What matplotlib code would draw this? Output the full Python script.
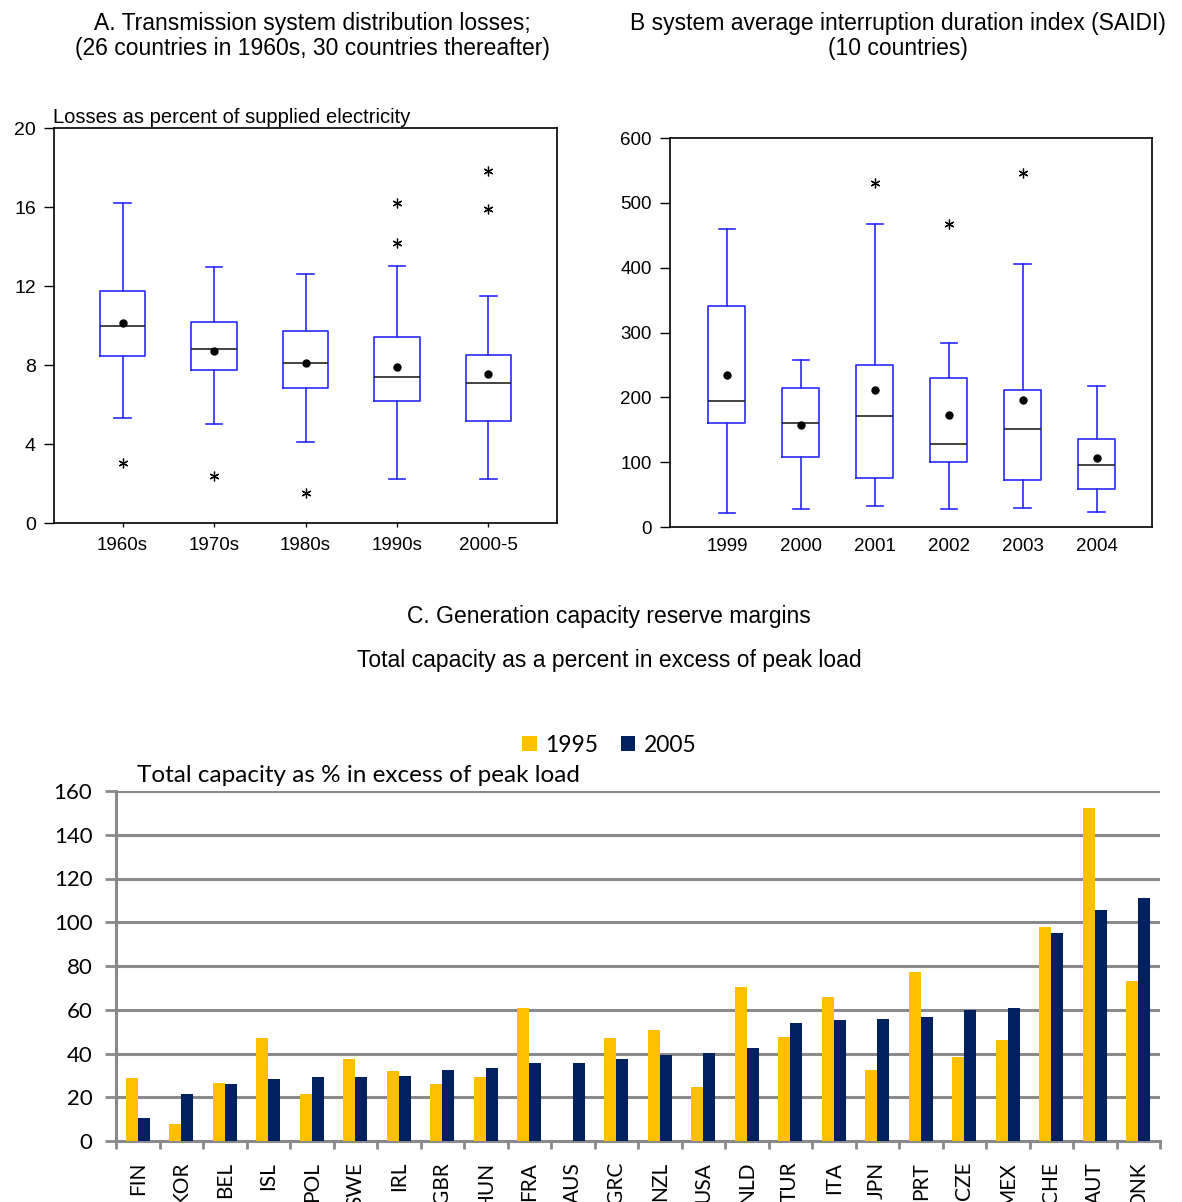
import matplotlib
matplotlib.use("Agg")
import matplotlib.pyplot as plt
from matplotlib.patches import Patch
import numpy as np

# ---------------- data ----------------
# A. Transmission and distribution losses (% of supplied electricity)
loss_decades = ["1960s", "1970s", "1980s", "1990s", "2000-5"]
loss_whislo = [5.3, 5.0, 4.1, 2.25, 2.25]
loss_q1 = [8.45, 7.75, 6.85, 6.2, 5.15]
loss_med = [10.0, 8.8, 8.1, 7.4, 7.1]
loss_mean = [10.15, 8.7, 8.1, 7.9, 7.55]
loss_q3 = [11.75, 10.2, 9.7, 9.4, 8.5]
loss_whishi = [16.2, 12.95, 12.6, 13.0, 11.5]
loss_outliers = [[3.05], [2.4], [1.5], [14.2, 16.2], [15.9, 17.8]]

# B. SAIDI (minutes)
saidi_years = ["1999", "2000", "2001", "2002", "2003", "2004"]
saidi_whislo = [22, 27, 33, 27, 29, 23]
saidi_q1 = [160, 108, 75, 100, 72, 59]
saidi_med = [194, 160, 171, 128, 151, 96]
saidi_mean = [235, 157, 212, 172, 196, 107]
saidi_q3 = [341, 214, 250, 230, 212, 136]
saidi_whishi = [459, 258, 467, 284, 406, 217]
saidi_outliers = [[], [], [531], [467], [546], []]

# C. Reserve margins (% of capacity in excess of peak load)
countries = ["FIN", "KOR", "BEL", "ISL", "POL", "SWE", "IRL", "GBR", "HUN",
             "FRA", "AUS", "GRC", "NZL", "USA", "NLD", "TUR", "ITA", "JPN",
             "PRT", "CZE", "MEX", "CHE", "AUT", "DNK"]
margin_1995 = [28.6, 7.6, 26.6, 47.3, 21.5, 37.7, 31.8, 26.0, 29.1, 60.9,
               np.nan, 47.1, 50.8, 24.6, 70.2, 47.6, 65.9, 32.5, 77.2, 38.6,
               46.2, 97.9, 152.1, 73.2]
margin_2005 = [10.7, 21.5, 25.9, 28.2, 29.1, 29.2, 29.7, 32.6, 33.2, 35.8,
               35.8, 37.7, 39.5, 40.3, 42.7, 54.0, 55.1, 55.8, 56.8, 59.8,
               60.9, 95.2, 105.7, 111.1]
series_labels = ["1995", "2005"]

# ---------------- styling ----------------
W, H = 1182, 1202
ARIAL = "Liberation Sans"
CAL = "Lato"
BLUE = "#2a2aff"
YELLOW = "#FFC000"
NAVY = "#002060"
GRID = "#8a8a8a"

fig = plt.figure(figsize=(W / 100, H / 100), dpi=100)


def px_axes(left, top, right, bottom):
    return fig.add_axes([left / W, 1 - bottom / H, (right - left) / W, (bottom - top) / H])


def box_stats(lo, q1, med, mean, q3, hi, fl):
    return [dict(whislo=a, q1=b, med=c, mean=d, q3=e, whishi=f, fliers=g)
            for a, b, c, d, e, f, g in zip(lo, q1, med, mean, q3, hi, fl)]


def draw_boxes(ax, stats, capw):
    ax.bxp(stats, positions=np.arange(1, len(stats) + 1), widths=0.5,
           showmeans=True, capwidths=capw,
           boxprops=dict(color=BLUE, lw=1.2),
           whiskerprops=dict(color=BLUE, lw=1.2),
           capprops=dict(color=BLUE, lw=1.2),
           medianprops=dict(color="#222222", lw=1.2),
           meanprops=dict(marker="o", markerfacecolor="black",
                          markeredgecolor="black", markersize=5),
           flierprops=dict(marker=(6, 2, 0), markeredgecolor="black",
                           markerfacecolor="black", markersize=7, lw=0,
                           markeredgewidth=0.9))
    for s in ax.spines.values():
        s.set_color("black")
        s.set_linewidth(1.2)


# ---------------- panel A ----------------
axA = px_axes(54, 128, 557, 523)
draw_boxes(axA, box_stats(loss_whislo, loss_q1, loss_med, loss_mean, loss_q3,
                          loss_whishi, loss_outliers), 0.18)
axA.set_xlim(0.25, 5.75)
axA.set_ylim(0, 20)
axA.set_yticks([0, 4, 8, 12, 16, 20])
axA.set_xticks(np.arange(1, 6))
axA.set_xticklabels(loss_decades)
axA.tick_params(axis="y", length=7, width=1, pad=6, labelsize=14)
axA.tick_params(axis="x", length=3, width=1, pad=7, labelsize=13.5)
for t in axA.get_xticklabels() + axA.get_yticklabels():
    t.set_fontfamily(ARIAL)
axA.text(-0.002, 1.002, "Losses as percent of supplied electricity",
         transform=axA.transAxes, ha="left", va="bottom", fontsize=14.5,
         family=ARIAL)
fig.text(312 / W, 1 - 36 / H,
         "A. Transmission system distribution losses;\n"
         "(26 countries in 1960s, 30 countries thereafter)",
         ha="center", va="center", fontsize=16.5, family=ARIAL, linespacing=1.15)

# ---------------- panel B ----------------
axB = px_axes(670, 138, 1152, 527)
draw_boxes(axB, box_stats(saidi_whislo, saidi_q1, saidi_med, saidi_mean, saidi_q3,
                          saidi_whishi, saidi_outliers), 0.22)
axB.set_xlim(0.23, 6.75)
axB.set_ylim(0, 600)
axB.set_yticks(np.arange(0, 601, 100))
axB.set_xticks(np.arange(1, 7))
axB.set_xticklabels(saidi_years)
axB.tick_params(axis="y", length=7, width=1, pad=6, labelsize=13.5)
axB.tick_params(axis="x", length=0, pad=8, labelsize=13.5)
for t in axB.get_xticklabels() + axB.get_yticklabels():
    t.set_fontfamily(ARIAL)
fig.text(898 / W, 1 - 36 / H,
         "B system average interruption duration index (SAIDI)\n(10 countries)",
         ha="center", va="center", fontsize=16.5, family=ARIAL, linespacing=1.15)

# ---------------- panel C ----------------
fig.text(609 / W, 1 - 617 / H, "C. Generation capacity reserve margins",
         ha="center", va="center", fontsize=16.5, family=ARIAL)
fig.text(609 / W, 1 - 661 / H, "Total capacity as a percent in excess of peak load",
         ha="center", va="center", fontsize=16.5, family=ARIAL)

axC = px_axes(116, 791, 1160, 1141)
x = np.arange(len(countries))
bw = 0.28
axC.bar(x - bw / 2, margin_1995, width=bw, color=YELLOW, zorder=3)
axC.bar(x + bw / 2, margin_2005, width=bw, color=NAVY, zorder=3)
axC.set_xlim(-0.5, len(countries) - 0.5)
axC.set_ylim(0, 160)
axC.set_yticks(np.arange(0, 161, 20))
axC.yaxis.grid(True, color=GRID, lw=2.2, zorder=0)
axC.set_axisbelow(True)
for side in ("top", "right"):
    axC.spines[side].set_visible(False)
for side in ("left", "bottom"):
    axC.spines[side].set_color(GRID)
    axC.spines[side].set_linewidth(2.2)
axC.set_xticks(np.arange(-0.5, len(countries), 1.0))
axC.set_xticklabels([])
axC.set_xticks(x, minor=True)
axC.set_xticklabels(countries, minor=True, rotation=90, va="top", ha="center",
                    fontsize=15, family=CAL)
axC.tick_params(axis="x", which="major", length=6, width=2, color=GRID)
axC.tick_params(axis="x", which="minor", length=0, pad=15)
axC.tick_params(axis="y", length=8, width=2, color=GRID, pad=9, labelsize=16)
for t in axC.get_yticklabels():
    t.set_fontfamily(CAL)
fig.text(137 / W, 1 - 776 / H, "Total capacity as % in excess of peak load",
         ha="left", va="center", fontsize=17.5, family=CAL)

handles = [Patch(facecolor=YELLOW, edgecolor="none"),
           Patch(facecolor=NAVY, edgecolor="none")]
fig.legend(handles, series_labels, loc="center", bbox_to_anchor=(609 / W, 1 - 745 / H),
           ncol=2, frameon=False, prop=dict(family=CAL, size=16.5),
           handlelength=0.65, handleheight=0.65, handletextpad=0.35,
           columnspacing=1.0, borderpad=0)

fig.savefig("out.png", dpi=100)
